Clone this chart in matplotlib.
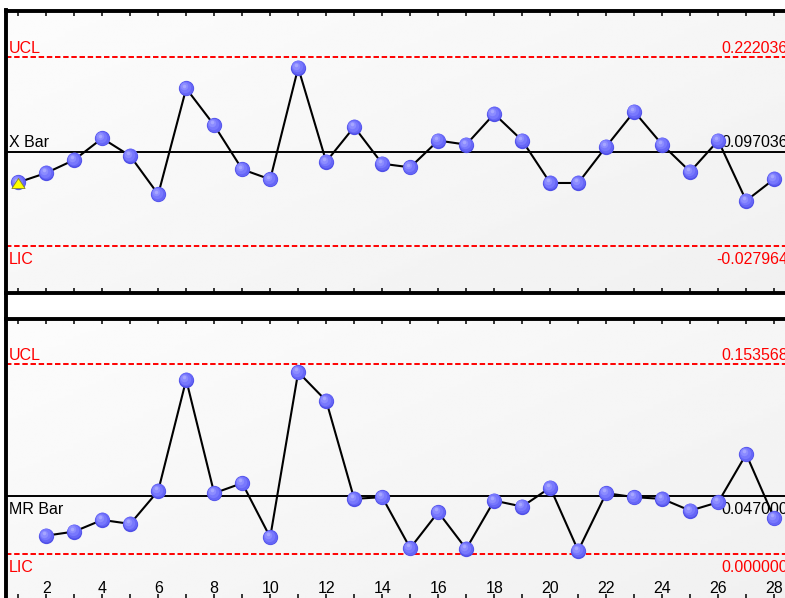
import matplotlib
matplotlib.use('Agg')
import matplotlib.pyplot as plt
import matplotlib.transforms as mtransforms
from matplotlib.lines import Line2D
from matplotlib.ticker import MultipleLocator, FuncFormatter
import numpy as np

plt.rcParams['font.family'] = ['Liberation Sans', 'DejaVu Sans']

# ---------------- data ----------------
samples = list(range(1, 29))
xbar_values = [0.0562, 0.0687, 0.0860, 0.1147, 0.0913, 0.0403, 0.1808, 0.1320, 0.0735, 0.0602,
               0.2083, 0.0837, 0.1298, 0.0810, 0.0761, 0.1117, 0.1063, 0.1471, 0.1117, 0.0554,
               0.0554, 0.1037, 0.1502, 0.1063, 0.0704, 0.1117, 0.0319, 0.0607]
mr_samples = list(range(2, 29))
mr_values = [0.0150, 0.0183, 0.0277, 0.0245, 0.0512, 0.1409, 0.0493, 0.0574, 0.0137, 0.1471,
             0.1239, 0.0447, 0.0461, 0.0049, 0.0340, 0.0043, 0.0433, 0.0385, 0.0538, 0.0029,
             0.0493, 0.0461, 0.0447, 0.0352, 0.0420, 0.0808, 0.0291]
flagged_samples = [1]

xbar_ucl = 0.222036
xbar_cl = 0.097036
xbar_lcl = -0.027964
mr_ucl = 0.153568
mr_cl = 0.047000
mr_lcl = 0.000000

ucl_label = "UCL"
lcl_label = "LIC"
xbar_label = "X Bar"
mr_label = "MR Bar"

# ---------------- layout ----------------
W, H = 785, 598
fig = plt.figure(figsize=(W / 100, H / 100), dpi=100)
fig.patch.set_facecolor('white')


def px_axes(left, top, right, bottom):
    return fig.add_axes([left / W, 1 - bottom / H, (right - left) / W, (bottom - top) / H])


ax1 = px_axes(5.6, 10.5, 789.6, 292.7)
ax2 = px_axes(5.6, 319.0, 789.6, 599.3)

FS = 11.5
RED = '#ff0000'
SPINE_LW = 2.8

# gradient background
gy, gx = np.mgrid[0:1:100j, 0:1:100j]
grad = 0.988 - 0.045 * (0.55 * gx + 0.45 * gy)
for ax in (ax1, ax2):
    ax.imshow(grad, cmap='gray', vmin=0, vmax=1, extent=(0, 1, 0, 1),
              transform=ax.transAxes, aspect='auto', zorder=0, interpolation='bilinear')


def draw_balls(ax, x, y):
    layers = [(11.0, '#5050e8', 0.0, 0.0),
              (10.0, '#6666f6', -0.35, 0.4),
              (8.2, '#7878fd', -0.8, 0.9),
              (5.4, '#8c8cff', -1.3, 1.5),
              (2.6, '#a6a6ff', -1.7, 2.0)]
    for ms, c, dx, dy in layers:
        tr = ax.transData + mtransforms.ScaledTranslation(dx / 72, dy / 72, fig.dpi_scale_trans)
        ax.plot(x, y, ls='none', marker='o', ms=ms, mfc=c, mec='none',
                transform=tr, zorder=5)


def label(ax, text, y, side, above, color):
    trans = mtransforms.blended_transform_factory(ax.transAxes, ax.transData)
    xa = 0 if side == 'left' else 1
    dx = 2.4 if side == 'left' else -1.2
    dy = 3.0 if above else -12.9
    ax.annotate(text, xy=(xa, y), xycoords=trans, xytext=(dx, dy),
                textcoords='offset points', ha=side, va='baseline',
                color=color, fontsize=FS, zorder=3, annotation_clip=False)


def setup_chart(ax, xs, ys, ucl, cl, lcl, center_label, center_above, margin):
    ax.axhline(ucl, color=RED, lw=1.4, dashes=(2.8, 1.4), zorder=2)
    ax.axhline(lcl, color=RED, lw=1.4, dashes=(2.8, 1.4), zorder=2)
    ax.axhline(cl, color='black', lw=1.4, zorder=2)
    ax.plot(xs, ys, color='black', lw=1.5, zorder=4)
    draw_balls(ax, xs, ys)
    label(ax, ucl_label, ucl, 'left', True, RED)
    label(ax, f"{ucl:.6f}", ucl, 'right', True, RED)
    label(ax, lcl_label, lcl, 'left', False, RED)
    label(ax, f"{lcl:.6f}", lcl, 'right', False, RED)
    label(ax, center_label, cl, 'left', center_above, 'black')
    label(ax, f"{cl:.6f}", cl, 'right', center_above, 'black')
    ax.set_xlim(0.55, 28.55)
    ax.set_ylim(lcl - margin, ucl + margin)
    ax.yaxis.set_visible(False)
    ax.xaxis.set_major_locator(MultipleLocator(1))
    ax.tick_params(axis='x', direction='in', length=3.8, width=1.1, top=True, bottom=True,
                   color='black')
    for s in ax.spines.values():
        s.set_linewidth(SPINE_LW)
        s.set_color('black')
    ax.spines['right'].set_visible(False)


setup_chart(ax1, samples, xbar_values, xbar_ucl, xbar_cl, xbar_lcl, xbar_label, True, 0.0622)
setup_chart(ax2, mr_samples, mr_values, mr_ucl, mr_cl, mr_lcl, mr_label, False, 0.0364)

# flagged point marker (yellow triangle)
flag_y = [xbar_values[samples.index(s)] for s in flagged_samples]
tri = [(0, 0.76), (-1, -0.76), (1, -0.76), (0, 0.76)]
tr_tri = ax1.transData + mtransforms.ScaledTranslation(0, -0.6 / 72, fig.dpi_scale_trans)
ax1.plot(flagged_samples, flag_y, ls='none', marker=tri, ms=9.5, mfc='#ffff00',
         mec='#8a8a20', mew=0.6, transform=tr_tri, zorder=6)

ax1.tick_params(axis='x', labelbottom=False)
ax2.tick_params(axis='x', labelbottom=True, pad=-13, labelsize=FS, labelcolor='black')
ax2.xaxis.set_major_formatter(FuncFormatter(lambda v, p: f"{int(round(v))}" if int(round(v)) % 2 == 0 else ""))
ax2.spines['bottom'].set_visible(False)

# left border through the gap between panels
fig.add_artist(Line2D([5.6 / W, 5.6 / W], [1 - 292.7 / H, 1 - 319.0 / H],
                      transform=fig.transFigure, color='black', lw=SPINE_LW))

fig.savefig('out.png', dpi=100)
